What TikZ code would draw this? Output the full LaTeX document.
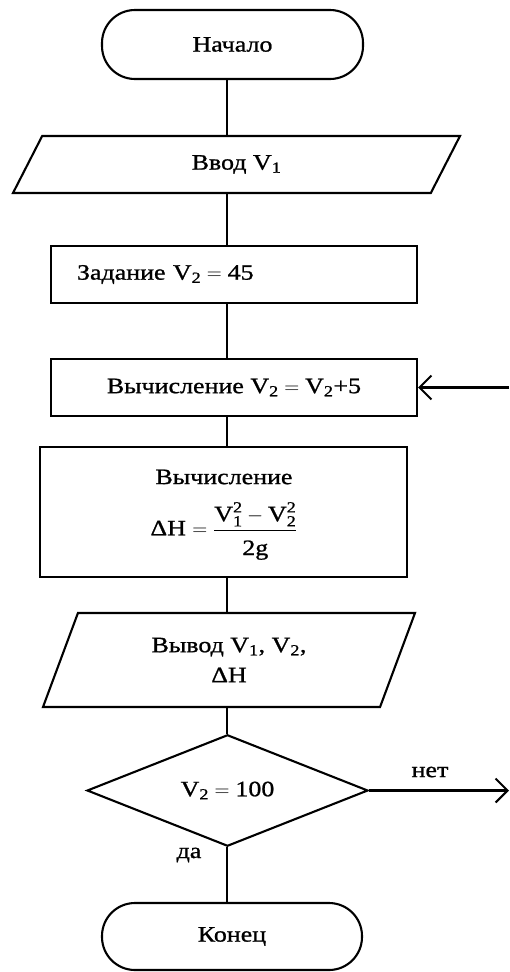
\documentclass[tikz,border=0pt]{standalone}
\usepackage{amsmath}
\usepackage{fontspec}
\setmainfont{Liberation Serif}[FakeStretch=1.18, FakeBold=1]
\usetikzlibrary{shapes.geometric,arrows.meta}

\newcommand\Vsub[1]{V$_{\text{#1}}$}

\begin{document}
\begin{tikzpicture}[x=1pt,y=-1pt,
  every node/.style={font=\fontsize{22}{30}\selectfont},
  blk/.style={draw, line width=2.1pt, inner sep=0pt},
  terminal/.style={blk, rectangle, rounded corners=33pt},
  io/.style={blk, trapezium, trapezium stretches body},
  proc/.style={blk, rectangle},
  decision/.style={blk, diamond},
  flow/.style={line width=2.1pt},
  loop/.style={line width=2.1pt, -{Straight Barb[length=12pt,width=24pt,line width=2pt]}},
  lbl/.style={inner sep=0pt}
]
\useasboundingbox (0,0) rectangle (509,972);
\coordinate (spine) at (227,0);

\node[terminal, minimum width=261pt, minimum height=69pt] (start) at (232.5,44.5) {Начало};
\node[io, trapezium left angle=32.6, trapezium right angle=147.4,
      minimum width=447pt, minimum height=57pt] (in) at (236.5,164.5) {Ввод \Vsub{1}};
\node[proc, minimum width=366pt, minimum height=57pt, text width=314pt, align=left,
      inner xsep=26pt] (init) at (234,274.5) {Задание \Vsub{2}${}={}$45};
\node[proc, minimum width=366pt, minimum height=57pt] (step) at (234,387.5)
      {Вычисление \Vsub{2}${}={}$\Vsub{2}+5};
\node[proc, minimum width=367pt, minimum height=130pt] (calc) at (223.5,512) {};
\node[lbl] (calctitle) at (224,477) {Вычисление};
\node[lbl] (calcformula) at (224,531)
      {ΔH $=\dfrac{\rule[-6pt]{0pt}{24pt}\text{V}^{\text{2}}_{\text{1}}-\text{V}^{\text{2}}_{\text{2}}}
                 {\rule{0pt}{22pt}\text{2g}}$};
\node[io, trapezium left angle=51.8, trapezium right angle=128.2,
      minimum width=372pt, minimum height=94pt, align=center] (out) at (229,660)
      {Вывод \Vsub{1}, \Vsub{2},\\ΔH};
\node[decision, minimum width=281pt, minimum height=103pt] (cond) at (227.5,790.5)
      {\Vsub{2}${}={}$100};
\node[terminal, minimum width=260pt, minimum height=67pt] (stop) at (232,936.5) {Конец};

\node[lbl] (no) at (430,772) {нет};
\node[lbl] (yes) at (189,855) {да};

\coordinate (loopin) at (509,387.5);
\coordinate (loopout) at (509,790.5);

\draw[flow] (start.south -| spine) -- (in.north -| spine);
\draw[flow] (in.south -| spine) -- (init.north -| spine);
\draw[flow] (init.south -| spine) -- (step.north -| spine);
\draw[flow] (step.south -| spine) -- (calc.north -| spine);
\draw[flow] (calc.south -| spine) -- (out.north -| spine);
\draw[flow] (out.south -| spine) -- (cond.north -| spine);
\draw[flow] (cond.south -| spine) -- (stop.north -| spine);
\draw[loop] (loopin) -- (step.east);
\draw[loop] (cond.east) -- (loopout);
\end{tikzpicture}
\end{document}
